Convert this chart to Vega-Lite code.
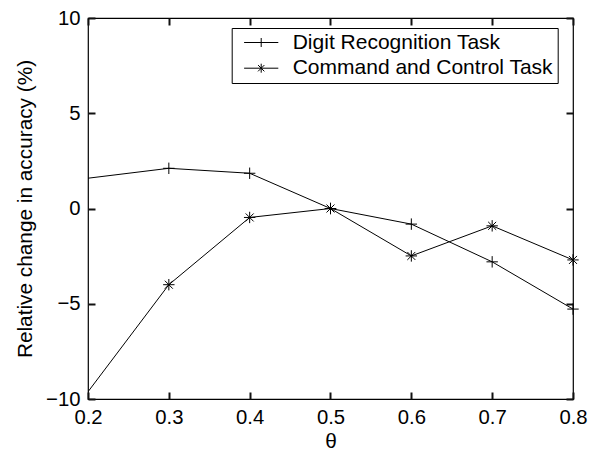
{
  "$schema": "https://vega.github.io/schema/vega-lite/v6.json",
  "width": 485,
  "height": 381,
  "autosize": {"type": "none"},
  "padding": {"left": 88, "top": 18, "right": 27, "bottom": 52},
  "background": "white",
  "config": {
    "font": "Liberation Sans",
    "view": {"stroke": "black", "strokeWidth": 1.2},
    "axis": {
      "labelFlush": false,
      "labelOverlap": false,
      "labelFont": "Liberation Sans",
      "labelFontSize": 20.3,
      "labelColor": "black",
      "titleFont": "Liberation Sans",
      "titleFontSize": 20.8,
      "titleFontWeight": "normal",
      "titleColor": "black"
    },
    "legend": {
      "labelFont": "Liberation Sans",
      "labelFontSize": 21,
      "labelColor": "black",
      "labelLimit": 500
    }
  },
  "data": {
    "values": [
      {"theta": 0.2, "value": 1.59, "series": "Digit Recognition Task"},
      {"theta": 0.3, "value": 2.11, "series": "Digit Recognition Task"},
      {"theta": 0.4, "value": 1.85, "series": "Digit Recognition Task"},
      {"theta": 0.5, "value": 0.0, "series": "Digit Recognition Task"},
      {"theta": 0.6, "value": -0.82, "series": "Digit Recognition Task"},
      {"theta": 0.7, "value": -2.8, "series": "Digit Recognition Task"},
      {"theta": 0.8, "value": -5.28, "series": "Digit Recognition Task"},
      {"theta": 0.2, "value": -9.62, "series": "Command and Control Task"},
      {"theta": 0.3, "value": -4.0, "series": "Command and Control Task"},
      {"theta": 0.4, "value": -0.47, "series": "Command and Control Task"},
      {"theta": 0.5, "value": 0.0, "series": "Command and Control Task"},
      {"theta": 0.6, "value": -2.49, "series": "Command and Control Task"},
      {"theta": 0.7, "value": -0.91, "series": "Command and Control Task"},
      {"theta": 0.8, "value": -2.7, "series": "Command and Control Task"}
    ]
  },
  "layer": [
    {
      "mark": {"type": "line", "color": "black", "strokeWidth": 1, "clip": true},
      "encoding": {
        "x": {
          "field": "theta", "type": "quantitative",
          "scale": {"domain": [0.2, 0.8], "nice": false, "zero": false},
          "axis": {"title": "θ", "values": [0.2, 0.3, 0.4, 0.5, 0.6, 0.7, 0.8], "format": ".1f", "titlePadding": 4, "grid": false, "domain": false, "ticks": true, "tickSize": -7, "tickWidth": 2, "tickColor": "#111111", "tickOpacity": 1, "labelPadding": 15}
        },
        "y": {
          "field": "value", "type": "quantitative",
          "scale": {"domain": [-10, 10], "nice": false, "zero": false},
          "axis": {"title": "Relative change in accuracy (%)", "values": [-10, -5, 0, 5, 10], "titlePadding": 10, "grid": false, "domain": false, "ticks": true, "tickSize": -7, "tickWidth": 2, "tickColor": "#111111", "tickOpacity": 1, "labelPadding": 15}
        },
        "detail": {"field": "series"}
      }
    },
    {
      "transform": [{"filter": "datum.theta > 0.2"}],
      "mark": {"type": "point", "filled": false, "stroke": "black", "strokeWidth": 1, "size": 130, "opacity": 1, "clip": false},
      "encoding": {
        "x": {"field": "theta", "type": "quantitative", "axis": null},
        "y": {"field": "value", "type": "quantitative", "axis": null},
        "shape": {
          "field": "series", "type": "nominal",
          "scale": {
            "domain": ["Digit Recognition Task", "Command and Control Task"],
            "range": ["M-1,0L1,0M0,-1L0,1", "M-1,0L1,0M0,-1L0,1M-0.7,-0.7L0.7,0.7M-0.7,0.7L0.7,-0.7"]
          },
          "legend": null
        }
      }
    },
    {
      "transform": [{"filter": "datum.theta > 10"}],
      "mark": {"type": "point", "filled": false, "stroke": "black", "strokeWidth": 1, "size": 81, "opacity": 1},
      "encoding": {
        "x": {"field": "theta", "type": "quantitative", "axis": null},
        "y": {"field": "value", "type": "quantitative", "axis": null},
        "shape": {
          "field": "series", "type": "nominal",
          "scale": {
            "domain": ["Digit Recognition Task", "Command and Control Task"],
            "range": ["M-3.8,0L3.8,0M0,-1L0,1", "M-3.8,0L3.8,0M0,-1L0,1M-0.7,-0.7L0.7,0.7M-0.7,0.7L0.7,-0.7"]
          },
          "legend": {
            "title": null,
            "orient": "none",
            "legendX": 143.7,
            "legendY": 10,
            "strokeColor": "black",
            "fillColor": "white",
            "padding": 4,
            "symbolOffset": 15,
            "labelOffset": 21,
            "rowPadding": 3.7,
            "symbolSize": 81,
            "symbolStrokeColor": "black",
            "symbolStrokeWidth": 1,
            "symbolFillColor": "transparent",
            "symbolOpacity": 1,
            "labelExpr": "datum.label + '\u00a0'"
          }
        }
      }
    },
    {
      "mark": {"type": "point", "opacity": 0},
      "encoding": {
        "x": {"field": "theta", "type": "quantitative", "axis": {"orient": "top", "labels": false, "title": null, "values": [0.2, 0.3, 0.4, 0.5, 0.6, 0.7, 0.8], "grid": false, "domain": false, "ticks": true, "tickSize": -7, "tickWidth": 2, "tickColor": "#111111", "tickOpacity": 1}},
        "y": {"field": "value", "type": "quantitative", "axis": {"orient": "right", "labels": false, "title": null, "values": [-10, -5, 0, 5, 10], "grid": false, "domain": false, "ticks": true, "tickSize": -7, "tickWidth": 2, "tickColor": "#111111", "tickOpacity": 1}}
      }
    }
  ],
  "resolve": {"axis": {"x": "independent", "y": "independent"}, "scale": {"shape": "independent"}}
}
